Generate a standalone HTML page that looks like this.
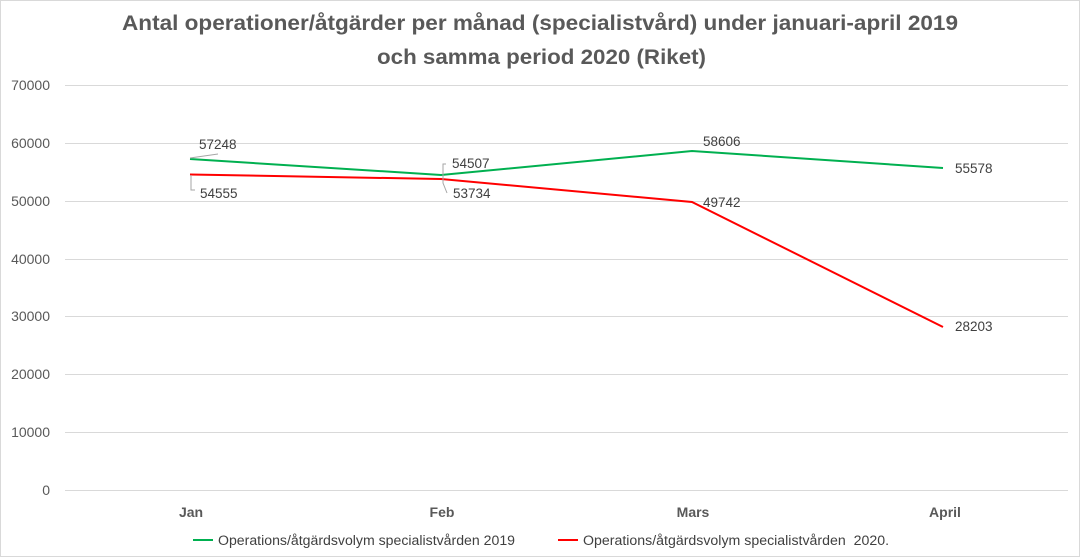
<!DOCTYPE html>
<html><head><meta charset="utf-8"><style>
body{margin:0;background:#fff;}
svg{display:block;font-family:"Liberation Sans",sans-serif;}
</style></head><body>
<svg width="1080" height="557" viewBox="0 0 1080 557">
<rect x="0.5" y="0.5" width="1079" height="556" fill="#fff" stroke="#d9d9d9"/>
<text x="122" y="30" textLength="836" lengthAdjust="spacingAndGlyphs" font-size="21" font-weight="bold" fill="#595959">Antal operationer/åtgärder per månad (specialistvård) under januari-april 2019</text>
<text x="377" y="64" textLength="329" lengthAdjust="spacingAndGlyphs" font-size="21" font-weight="bold" fill="#595959">och samma period 2020 (Riket)</text>
<g stroke="#d9d9d9" stroke-width="1">
<line x1="65" x2="1068" y1="85.5" y2="85.5"/>
<line x1="65" x2="1068" y1="143.5" y2="143.5"/>
<line x1="65" x2="1068" y1="201.5" y2="201.5"/>
<line x1="65" x2="1068" y1="259.5" y2="259.5"/>
<line x1="65" x2="1068" y1="316.5" y2="316.5"/>
<line x1="65" x2="1068" y1="374.5" y2="374.5"/>
<line x1="65" x2="1068" y1="432.5" y2="432.5"/>
<line x1="65" x2="1068" y1="490.5" y2="490.5"/>
</g>
<g font-size="14" fill="#595959" text-anchor="end">
<text x="50" y="90">70000</text><text x="50" y="148">60000</text><text x="50" y="206">50000</text>
<text x="50" y="264">40000</text><text x="50" y="321">30000</text><text x="50" y="379">20000</text>
<text x="50" y="437">10000</text><text x="50" y="495">0</text>
</g>
<g font-size="14" font-weight="bold" fill="#595959" text-anchor="middle">
<text x="191" y="517">Jan</text><text x="442" y="517">Feb</text><text x="693" y="517">Mars</text><text x="945" y="517">April</text>
</g>
<polyline points="190,159 441,175 692,151 943,168" fill="none" stroke="#00b050" stroke-width="2"/>
<polyline points="190,174.5 441,179 692,202 943,327" fill="none" stroke="#ff0000" stroke-width="2"/>
<g stroke="#a6a6a6" fill="none" stroke-width="1">
<polyline points="190,158 218,154"/>
<polyline points="191,175 191,190 195,190"/>
<polyline points="446,164 443,164 443,183 447,193"/>
</g>
<g font-size="13.5" fill="#404040">
<text x="199" y="149">57248</text>
<text x="200" y="198">54555</text>
<text x="452" y="168">54507</text>
<text x="453" y="198">53734</text>
<text x="703" y="146">58606</text>
<text x="703" y="207">49742</text>
<text x="955" y="173">55578</text>
<text x="955" y="331">28203</text>
</g>
<line x1="193" x2="213" y1="540" y2="540" stroke="#00b050" stroke-width="2"/>
<text x="218" y="545" textLength="297" lengthAdjust="spacingAndGlyphs" font-size="13.5" fill="#404040">Operations/åtgärdsvolym specialistvården 2019</text>
<line x1="558" x2="578" y1="540" y2="540" stroke="#ff0000" stroke-width="2"/>
<text x="583" y="545" textLength="306" lengthAdjust="spacingAndGlyphs" font-size="13.5" fill="#404040" xml:space="preserve">Operations/åtgärdsvolym specialistvården  2020.</text>
</svg>
</body></html>
